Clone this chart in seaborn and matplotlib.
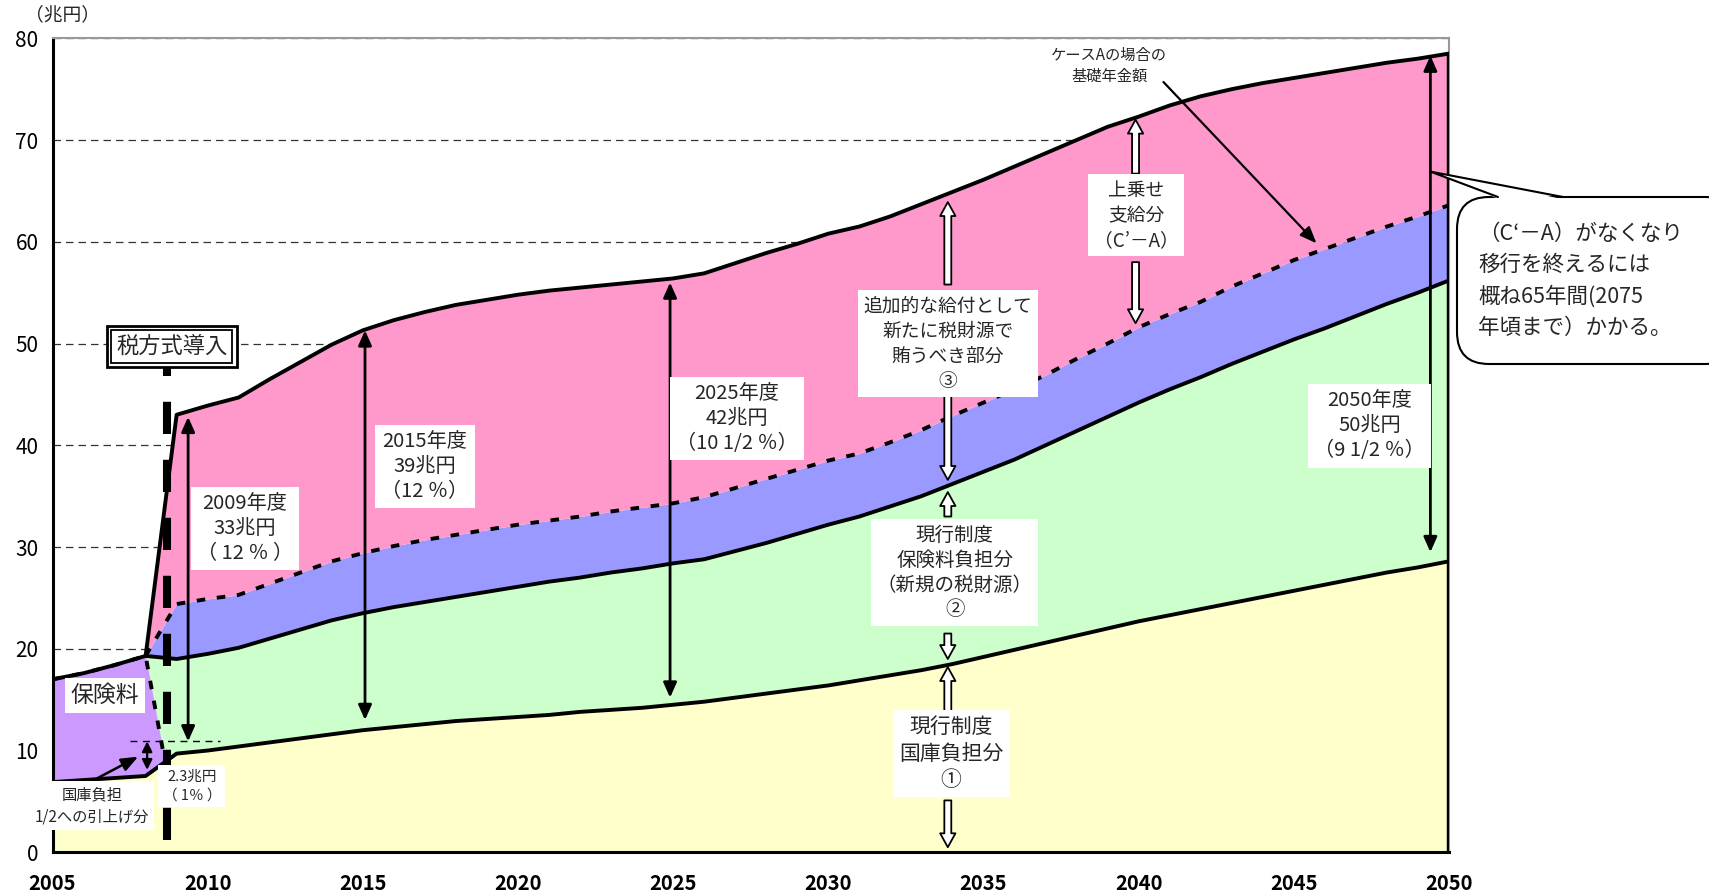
import numpy as np
import pandas as pd
import matplotlib
matplotlib.use("Agg")
import matplotlib.pyplot as plt
from matplotlib.patches import FancyBboxPatch, Polygon
import seaborn as sns

# ── DATA (兆円) ───────────────────────────────────────────────────────────────
YEARS = list(range(2005, 2051))

# 全額税方式の基礎年金額 (top line)
TOTAL = [17.0, 17.6, 18.4, 19.3,
         43.0, 43.9, 44.7, 46.5, 48.2, 49.9,
         51.3, 52.3, 53.1, 53.8, 54.3,
         54.8, 55.2, 55.5, 55.8, 56.1,
         56.4, 56.9, 57.9, 58.9, 59.8,
         60.8, 61.5, 62.5, 63.7, 64.9,
         66.1, 67.4, 68.7, 70.0, 71.3,
         72.3, 73.4, 74.3, 75.0, 75.6,
         76.1, 76.6, 77.1, 77.6, 78.0,
         78.5]

# ケースAの場合の基礎年金額 (dashed)
CASE_A = [17.0, 17.6, 18.4, 19.3,
          24.4, 24.9, 25.3, 26.4, 27.5, 28.6,
          29.4, 30.1, 30.7, 31.2, 31.7,
          32.2, 32.6, 33.0, 33.5, 33.9,
          34.3, 34.9, 35.8, 36.7, 37.6,
          38.5, 39.2, 40.3, 41.5, 42.9,
          44.2, 45.5, 46.9, 48.5, 50.0,
          51.6, 52.9, 54.1, 55.6, 56.9,
          58.2, 59.3, 60.4, 61.5, 62.5,
          63.6]

# 現行制度 (国庫負担 + 保険料負担)
CURRENT = [17.0, 17.6, 18.4, 19.3,
           19.0, 19.5, 20.1, 21.0, 21.9, 22.8,
           23.5, 24.1, 24.6, 25.1, 25.6,
           26.1, 26.6, 27.0, 27.5, 27.9,
           28.4, 28.8, 29.6, 30.4, 31.3,
           32.2, 33.0, 34.0, 35.0, 36.2,
           37.4, 38.6, 40.0, 41.4, 42.8,
           44.2, 45.5, 46.7, 48.0, 49.2,
           50.4, 51.5, 52.7, 53.9, 55.0,
           56.2]

# 現行制度 国庫負担分
STATE = [6.9, 7.1, 7.3, 7.5,
         9.7, 10.0, 10.4, 10.8, 11.2, 11.6,
         12.0, 12.3, 12.6, 12.9, 13.1,
         13.3, 13.5, 13.8, 14.0, 14.2,
         14.5, 14.8, 15.2, 15.6, 16.0,
         16.4, 16.9, 17.4, 17.9, 18.5,
         19.2, 19.9, 20.6, 21.3, 22.0,
         22.7, 23.3, 23.9, 24.5, 25.1,
         25.7, 26.3, 26.9, 27.5, 28.0,
         28.6]

# 保険料 wedge before the switch
PREM_X = [2005, 2006, 2007, 2008, 2008.62]
PREM_TOP = [17.0, 17.6, 18.4, 19.3, 9.0]
PREM_BOTTOM = [6.9, 7.1, 7.3, 7.5, 8.9]

SWITCH_YEAR = 2008.7

# (x, low, high) thin double arrows
SPANS = [(2009.37, 10.9, 42.8), (2015.07, 13.0, 51.3),
         (2024.9, 15.2, 56.0), (2049.4, 29.5, 78.3)]

YELLOW = "#FFFFCC"
GREEN = "#CCFFCC"
BLUE = "#9999FF"
PINK = "#FF99CC"
PURPLE = "#CC99FF"

sns.set_style("white")
plt.rcParams["font.family"] = ["Noto Sans CJK JP", "DejaVu Sans"]

W, H = 1709, 894
fig = plt.figure(figsize=(W / 100, H / 100), dpi=100)
ax = fig.add_axes([52.5 / W, 1 - 852.3 / H, (1449 - 52.5) / W, (852.3 - 38.3) / H])

df = pd.DataFrame({"year": YEARS, "total": TOTAL, "case_a": CASE_A,
                   "current": CURRENT, "state": STATE})
post = df[df["year"] >= 2008]

# ── fills ─────────────────────────────────────────────────────────────────────
ax.fill_between(df["year"], 0, df["state"], color=YELLOW, lw=0, zorder=1)
ax.fill_between(post["year"], post["state"], post["current"], color=GREEN, lw=0, zorder=1)
ax.fill_between(post["year"], post["current"], post["case_a"], color=BLUE, lw=0, zorder=1)
ax.fill_between(post["year"], post["case_a"], post["total"], color=PINK, lw=0, zorder=1)
ax.fill_between(PREM_X, PREM_BOTTOM, PREM_TOP, color=PURPLE, lw=0, zorder=2)

# ── outlines ──────────────────────────────────────────────────────────────────
LW = 2.8
DASH = (0, (2.2, 3.0))
sns.lineplot(data=df, x="year", y="state", ax=ax, color="black", lw=LW, zorder=4)
sns.lineplot(data=post, x="year", y="current", ax=ax, color="black", lw=LW, zorder=4)
sns.lineplot(data=post, x="year", y="case_a", ax=ax, color="black", lw=LW,
             linestyle=DASH, zorder=4)
sns.lineplot(data=df, x="year", y="total", ax=ax, color="black", lw=LW, zorder=4)
sns.lineplot(x=PREM_X, y=PREM_TOP, ax=ax, color="black", lw=LW, linestyle=DASH, zorder=4)
ax.vlines(PREM_X[0], PREM_BOTTOM[0], PREM_TOP[0], colors="black", lw=LW,
          linestyles=[DASH], zorder=4)
ax.vlines(YEARS[-1], 0, TOTAL[-1], colors="black", lw=3.2, zorder=4)

# 税方式導入 line
ax.vlines(SWITCH_YEAR, 1.2, 47.6, colors="black", lw=5.8,
          linestyles=[(0, (4, 3.2))], zorder=6)

# ── axes styling ──────────────────────────────────────────────────────────────
ax.set_xlim(2005, 2050)
ax.set_ylim(0, 80)
ax.set_xticks(range(2005, 2051, 5))
ax.set_yticks(range(0, 81, 10))
ax.set_xlabel("")
ax.set_ylabel("")
ax.set_axisbelow(True)
ax.yaxis.grid(True, color="#333333", lw=0.9, linestyle=(0, (6, 4)))
ax.xaxis.grid(False)
for side in ["left", "bottom"]:
    ax.spines[side].set_color("black")
    ax.spines[side].set_linewidth(2.2)
for side in ["top", "right"]:
    ax.spines[side].set_color("#999999")
    ax.spines[side].set_linewidth(1.5)
ax.tick_params(axis="x", direction="in", length=6, width=1, pad=15,
               labelsize=14.5, colors="black")
ax.tick_params(axis="y", direction="in", length=6, width=1, pad=10,
               labelsize=15, colors="black")
for lbl in ax.get_xticklabels():
    lbl.set_fontweight("bold")

# ── labels ────────────────────────────────────────────────────────────────────
def box(x, y, s, size=14.5, ls=1.25, pad=0.3):
    ax.text(x, y, s, ha="center", va="center", fontsize=size, linespacing=ls,
            zorder=8, bbox=dict(boxstyle=f"square,pad={pad}", fc="white", ec="none"))

box(2011.2, 31.8, "2009年度\n33兆円\n（ 12 ％ ）")
box(2017.0, 37.9, "2015年度\n39兆円\n（12 ％）")
box(2027.05, 42.6, "2025年度\n42兆円\n（10 1/2 ％）")
box(2047.45, 41.9, "2050年度\n50兆円\n（9 1/2 ％）")
box(2033.85, 50.0, "追加的な給付として\n新たに税財源で\n賄うべき部分\n③", size=13.5)
box(2034.07, 27.5, "現行制度\n保険料負担分\n（新規の税財源）\n②", size=14)
box(2033.96, 9.7, "現行制度\n国庫負担分\n①", size=15)
box(2039.93, 62.6, "上乗せ\n支給分\n（C’－A）", size=13.5)
box(2006.7, 15.4, "保険料", size=16.5, pad=0.25)
box(2006.27, 4.6, "国庫負担\n1/2への引上げ分", size=11, ls=1.4)
box(2009.49, 6.5, "2.3兆円\n（ 1％ ）", size=10.5, ls=1.5)
ax.text(2039.05, 77.3, "ケースAの場合の\n基礎年金額", ha="center", va="center",
        fontsize=11, linespacing=1.35, zorder=8)

# double-framed 税方式導入
ax.text(2008.85, 49.7, "税方式導入", ha="center", va="center", fontsize=16,
        color="none", zorder=8,
        bbox=dict(boxstyle="square,pad=0.42", fc="white", ec="black", lw=2))
ax.text(2008.85, 49.7, "税方式導入", ha="center", va="center", fontsize=16,
        zorder=9, bbox=dict(boxstyle="square,pad=0.22", fc="white", ec="black", lw=1.3))

# ── arrows ────────────────────────────────────────────────────────────────────
for x, lo, hi in SPANS:
    ax.annotate("", xy=(x, hi), xytext=(x, lo), zorder=7,
                arrowprops=dict(arrowstyle="<|-|>,head_length=0.45,head_width=0.2",
                                color="black", lw=2, shrinkA=0, shrinkB=0,
                                mutation_scale=20))
ax.annotate("", xy=(2008.05, 10.9), xytext=(2008.05, 8.1), zorder=7,
            arrowprops=dict(arrowstyle="<|-|>,head_length=0.3,head_width=0.15",
                            color="black", lw=1.6, shrinkA=0, shrinkB=0,
                            mutation_scale=20))
ax.hlines(10.9, 2007.5, 2010.4, colors="black", lw=1, linestyles=[(0, (5, 4))], zorder=5)
ax.annotate("", xy=(2007.76, 9.4), xytext=(2006.21, 6.9), zorder=7,
            arrowprops=dict(arrowstyle="-|>,head_length=0.5,head_width=0.2",
                            color="black", lw=1.8, shrinkA=0, shrinkB=0,
                            mutation_scale=20))
ax.annotate("", xy=(2045.73, 59.85), xytext=(2040.8, 75.7), zorder=7,
            arrowprops=dict(arrowstyle="-|>,head_length=0.5,head_width=0.2",
                            color="black", lw=1.6, shrinkA=0, shrinkB=0,
                            mutation_scale=20))


def hollow(x, y0, y1):
    ax.annotate("", xy=(x, y1), xytext=(x, y0), zorder=7,
                arrowprops=dict(arrowstyle="simple,head_length=0.5,head_width=0.55,tail_width=0.25",
                                fc="white", ec="black", lw=1.3, shrinkA=0, shrinkB=0,
                                mutation_scale=20))


hollow(2033.85, 55.8, 63.9)
hollow(2033.85, 45.1, 36.6)
hollow(2033.85, 33.0, 35.4)
hollow(2033.85, 21.5, 19.0)
hollow(2033.85, 13.8, 18.2)
hollow(2033.85, 5.1, 0.5)
hollow(2039.9, 66.7, 72.0)
hollow(2039.9, 58.0, 52.0)

# ── overlay: unit label and callout bubble ────────────────────────────────────
ov = fig.add_axes([0, 0, 1, 1], zorder=10)
ov.set_xlim(0, W)
ov.set_ylim(H, 0)
ov.axis("off")
ov.patch.set_alpha(0)

ov.text(62, 15, "（兆円）", ha="center", va="center", fontsize=13.5)

tip = ax.transData.transform((2049.4, 66.9))
tip = (tip[0], H - tip[1])
bubble = FancyBboxPatch((1457, 197), 280, 167, boxstyle="round,pad=0,rounding_size=32",
                        fc="white", ec="black", lw=1.5)
ov.add_patch(bubble)
ov.add_patch(Polygon([(1499, 199), tip, (1562, 199)], closed=True, fc="white", ec="none"))
ov.plot([1498, tip[0], 1563], [197, tip[1], 197], color="black", lw=1.5)
ov.text(1478, 281, "（C‘－A）がなくなり\n移行を終えるには\n概ね65年間(2075\n年頃まで）かかる。",
        ha="left", va="center", fontsize=15.5, linespacing=1.55)

fig.savefig("out.png", dpi=100, facecolor="white")
